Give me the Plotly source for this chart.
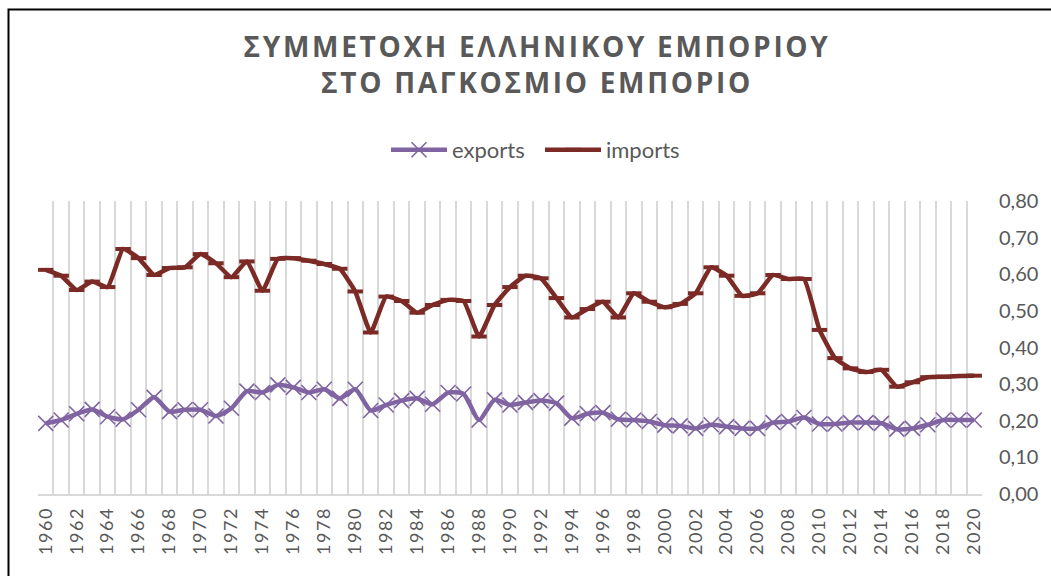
import plotly.graph_objects as go

years = list(range(1960, 2021))

exports = [0.193, 0.202, 0.219, 0.231, 0.211, 0.204, 0.230, 0.264, 0.225, 0.230,
           0.230, 0.213, 0.234, 0.281, 0.277, 0.298, 0.291, 0.277, 0.286, 0.261,
           0.286, 0.228, 0.243, 0.255, 0.261, 0.245, 0.277, 0.273, 0.202, 0.257,
           0.243, 0.250, 0.255, 0.248, 0.207, 0.219, 0.222, 0.204, 0.202, 0.198,
           0.188, 0.186, 0.179, 0.189, 0.184, 0.179, 0.179, 0.195, 0.198, 0.209,
           0.191, 0.191, 0.195, 0.195, 0.193, 0.177, 0.179, 0.189, 0.202, 0.202,
           0.202]

imports = [0.612, 0.596, 0.557, 0.580, 0.565, 0.669, 0.644, 0.598, 0.617, 0.619,
           0.655, 0.630, 0.592, 0.635, 0.555, 0.642, 0.644, 0.637, 0.628, 0.615,
           0.553, 0.441, 0.539, 0.527, 0.495, 0.516, 0.530, 0.527, 0.430, 0.516,
           0.565, 0.596, 0.589, 0.535, 0.482, 0.505, 0.525, 0.482, 0.548, 0.525,
           0.510, 0.519, 0.548, 0.619, 0.596, 0.541, 0.548, 0.598, 0.587, 0.587,
           0.448, 0.371, 0.343, 0.333, 0.339, 0.293, 0.305, 0.319, 0.320, 0.322,
           0.323]

title_lines = ["ΣΥΜΜΕΤΟΧΗ ΕΛΛΗΝΙΚΟΥ ΕΜΠΟΡΙΟΥ", "ΣΤΟ ΠΑΓΚΟΣΜΙΟ ΕΜΠΟΡΙΟ"]
label_years = years[::2]
y_ticks = [0.0, 0.1, 0.2, 0.3, 0.4, 0.5, 0.6, 0.7, 0.8]

PURPLE = "#8064A2"
DARKRED = "#7B2A26"
GRAY = "#595959"
GRID = "#D9D9D9"
FONT = "Lato, 'Open Sans', sans-serif"

W, H = 1051, 576
L, R, T, B = 38, 69, 201, 82
pw, ph = W - L - R, H - T - B

fig = go.Figure()
fig.add_trace(go.Scatter(
    x=years, y=exports, name="exports", mode="lines+markers",
    line=dict(color=PURPLE, width=4.5, shape="spline", smoothing=0.6),
    marker=dict(symbol="x-thin", size=15, color=PURPLE,
                line=dict(color=PURPLE, width=1.6)),
))
fig.add_trace(go.Scatter(
    x=years, y=imports, name="imports", mode="lines+markers",
    line=dict(color=DARKRED, width=4.5, shape="spline", smoothing=0.4),
    marker=dict(symbol="line-ew", size=11, color=DARKRED,
                line=dict(color=DARKRED, width=4)),
))

spaced = lambda s, px: f'<span style="letter-spacing:{px}px">{s}</span>'

fig.update_layout(
    width=W, height=H,
    margin=dict(l=L, r=R, t=T, b=B, autoexpand=False),
    paper_bgcolor="white", plot_bgcolor="white",
    separators=",.",
    font=dict(family=FONT, color=GRAY, size=18),
    title=dict(
        text=spaced(title_lines[0], 2.7) + "<br>" + spaced(title_lines[1], 2.7),
        x=537 / W, xanchor="center", xref="container",
        y=1 - 57 / H, yanchor="top", yref="container",
        font=dict(family="'Open Sans', sans-serif", size=28, color=GRAY, weight="bold"),
        automargin=False,
    ),
    legend=dict(orientation="h", x=540 / W, xanchor="center", xref="container",
                y=1 - 150 / H, yanchor="middle", yref="container",
                font=dict(size=22, color=GRAY), itemwidth=56,
                entrywidth=83, entrywidthmode="pixels",
                traceorder="normal"),
    hovermode=False,
    showlegend=True,
)

fig.update_xaxes(
    range=[1959.5, 2020.5], automargin=False,
    tickmode="array", tickvals=label_years,
    ticktext=[spaced(str(y), 1.6) for y in label_years],
    tickangle=-90, tickfont=dict(size=18, color=GRAY),
    showgrid=False, ticks="", ticklabelstandoff=4,
    showline=True, linecolor=GRID, linewidth=1.5,
    minor=dict(tickmode="array", tickvals=[1959.5 + i for i in range(62)],
               showgrid=True, gridcolor=GRID, gridwidth=1.5, ticks=""),
    zeroline=False,
)
fig.update_yaxes(
    range=[0, 0.8], side="right", automargin=False,
    tickmode="array", tickvals=y_ticks, tickformat=".2f",
    tickfont=dict(size=20, color=GRAY),
    showgrid=False, zeroline=False, showline=False, ticks="",
    ticklabelstandoff=16,
)

# outer chart frame (partially cropped in the reference)
fig.add_shape(type="rect", xref="paper", yref="paper",
              x0=(8.5 - L) / pw, x1=(W + 20 - L) / pw,
              y0=(H - B - (H + 20)) / ph, y1=(H - B - 9.5) / ph,
              line=dict(color="black", width=2), fillcolor="rgba(0,0,0,0)",
              layer="above")

fig.write_html("out.html", config={"displayModeBar": False},
               post_script="document.body.style.margin='0';")
